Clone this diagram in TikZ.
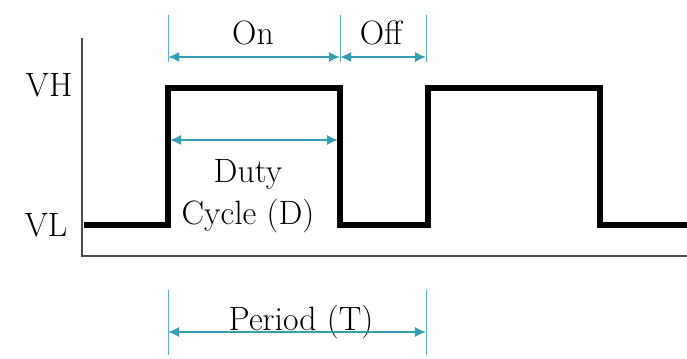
\documentclass[tikz,border=0pt]{standalone}
\usepackage{tikz}
\usetikzlibrary{arrows.meta}
\definecolor{dimteal}{RGB}{52,158,178}

\begin{document}
\begin{tikzpicture}[x=0.025cm, y=-0.025cm,
  dimline/.style={{Latex[length=2.8mm,width=2.6mm]}-{Latex[length=2.8mm,width=2.6mm]}, line width=1.7pt, dimteal},
  tickline/.style={line width=0.6pt, dimteal!80},
  lbl/.style={font=\fontsize{24}{28}\selectfont, inner sep=0pt, anchor=base}]
\useasboundingbox (0,0) rectangle (687,359);
% axes
\coordinate (ytop) at (82,38);
\coordinate (orig) at (82,256);
\coordinate (xend) at (687,256);
\draw[line width=0.8pt, black!70] (ytop) -- (orig) -- (xend);
% levels
\node[lbl] (vh) at (49,97) {VH};
\node[lbl] (vl) at (46,237) {VL};
% pulse train
\draw[line width=3.6pt, line join=miter] (84,225) -- (168,225) -- (168,88) -- (340,88) -- (340,225)
  -- (428,225) -- (428,88) -- (600,88) -- (600,225) -- (687,225);
% on / off
\coordinate (t1) at (168,15); \coordinate (b1) at (168,62);
\coordinate (t2) at (340,15); \coordinate (b2) at (340,62);
\coordinate (t3) at (426,15); \coordinate (b3) at (426,62);
\draw[tickline] (t1) -- (b1);
\draw[tickline] (t2) -- (b2);
\draw[tickline] (t3) -- (b3);
\coordinate (on1) at (168,57); \coordinate (on2) at (340,57);
\coordinate (off2) at (426,57);
\draw[dimline] (on1) -- (on2);
\draw[dimline] (on2) -- (off2);
\node[lbl] (on) at (253,45) {On};
\node[lbl] (off) at (381,45) {Off};
% duty cycle
\coordinate (d1) at (170,140); \coordinate (d2) at (338,140);
\draw[dimline] (d1) -- (d2);
\node[lbl] (duty) at (248,183) {Duty};
\node[lbl] (cycle) at (248,225) {Cycle (D)};
% period
\coordinate (pt1) at (168,290); \coordinate (pb1) at (168,355);
\coordinate (pt2) at (426,290); \coordinate (pb2) at (426,355);
\draw[tickline] (pt1) -- (pb1);
\draw[tickline] (pt2) -- (pb2);
\node[lbl] (period) at (301,331) {Period (T)};
\coordinate (p1) at (168,332); \coordinate (p2) at (426,332);
\draw[dimline] (p1) -- (p2);
\end{tikzpicture}
\end{document}
